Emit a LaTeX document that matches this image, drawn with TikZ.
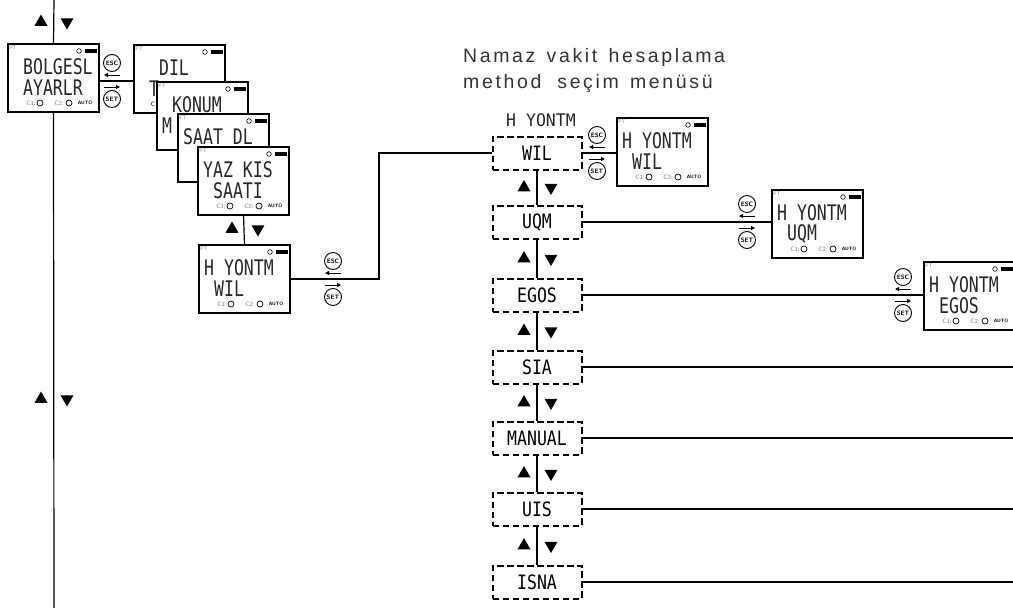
\documentclass[tikz,border=0pt]{standalone}
\usepackage{fontspec}
\usepackage{graphicx}
\usetikzlibrary{positioning,shapes.geometric,arrows.meta,calc}
\newfontfamily\titlefont[LetterSpace=13.5, WordSpace=1.4]{Liberation Sans}
\newfontfamily\lcdfont{DejaVu Sans Mono}
\newcommand{\lcdtext}[2][1.3]{\scalebox{1}[#1]{\fontsize{16.5}{16.5}\lcdfont #2}}

\tikzset{
  screen/.style={draw, fill=white, line width=1.2pt, minimum width=91pt, minimum height=68pt,
    inner sep=0pt, outer sep=0pt, anchor=north west},
  menubox/.style={draw, line width=2pt, dash pattern=on 6.5pt off 3.5pt, minimum width=89pt,
    minimum height=33pt, inner sep=0pt},
  key/.style={draw, circle, line width=0.9pt, minimum size=17pt, inner sep=0pt,
    font=\sffamily\bfseries\fontsize{6.3}{6.3}\selectfont},
  uptri/.style={regular polygon, regular polygon sides=3, fill, draw=none, minimum size=15pt, inner sep=0pt},
  downtri/.style={uptri, shape border rotate=180},
  tiny/.style={inner sep=0pt, text=gray, font=\sffamily\fontsize{6.3}{6.3}\selectfont},
  lcd/.style={anchor=west, inner sep=0pt, text=black!85},
  link/.style={line width=1.2pt},
  keyarrow/.style={line width=1pt, -{Triangle[length=4pt,width=4pt]}},
  titletext/.style={anchor=base west, inner sep=0pt, text=black!80,
    font=\titlefont\fontsize{19.5}{19.5}\selectfont}
}

% ekran: isim, x, y, satir 1, satir 2
\newcommand{\screen}[5]{%
  \node[screen] (#1) at (#2,#3) {};
  \node[tiny, font=\sffamily\fontsize{5}{5}\selectfont] at ([shift={(5,4)}]#1.north west) {PT};
  \draw[line width=0.6pt] ([shift={(71,7)}]#1.north west) circle (2.3pt);
  \fill ([shift={(77,5)}]#1.north west) rectangle ++(12,4);
  \node[lcd] at ([shift={(5,23)}]#1.north west) {\lcdtext{#4}};
  \node[lcd] at ([shift={(5,44)}]#1.north west) {\lcdtext{#5}};
}

% ekran alt satiri: C1 C2 AUTO
\newcommand{\footer}[1]{%
  \node[tiny] at ([shift={(23,59)}]#1.north west) {C1:};
  \draw[line width=0.7pt] ([shift={(32,59)}]#1.north west) circle (3pt);
  \node[tiny] at ([shift={(51,59)}]#1.north west) {C2:};
  \draw[line width=0.7pt] ([shift={(61,59)}]#1.north west) circle (3pt);
  \node[tiny, text=black, font=\sffamily\bfseries\fontsize{4.8}{4.8}\selectfont]
    at ([shift={(77,59)}]#1.north west) {AUTO};
}

% ESC / SET tuslari: isim, x, y
\newcommand{\escset}[3]{%
  \node[key] (#1esc) at (#2,#3-18) {ESC};
  \node[key] (#1set) at (#2,#3+18) {SET};
  \draw[keyarrow] ([shift={(8,12)}]#1esc.center) -- ++(-16,0);
  \draw[keyarrow] ([shift={(-8,-12)}]#1set.center) -- ++(16,0);
}

\begin{document}
\begin{tikzpicture}[x=1pt, y=-1pt]
    \useasboundingbox (0,0) rectangle (1013,608);

    % Ana hat
    \coordinate (top) at (54,0);
    \coordinate (bottom) at (54,608);
    \coordinate (edge) at (1013,0);
    \coordinate (bend) at (379,153);

    % Bolgesel ayarlar
    \screen{bolg}{8}{44}{~BOLGESL}{~AYARLR}
    \footer{bolg}
    \draw[link] (top) -- (bolg.north);
    \draw[link] (bolg.south) -- (bottom);
    \node[uptri] at (41,22) {};
    \node[downtri] at (67,22) {};
    \node[uptri] at (41,399) {};
    \node[downtri] at (67,399) {};

    % Alt menu ekranlari
    \screen{dil}{134}{45}{~~DIL}{~T}
    \node[tiny, text=black] at ([shift={(19,59)}]dil.north west) {C};
    \screen{konum}{157}{82}{~KONUM}{M}
    \screen{saat}{178}{114}{SAAT~DL}{}
    \screen{yazkis}{198}{147}{YAZ~KIS}{~SAATI}
    \footer{yazkis}
    \screen{hyon}{199}{245}{H~YONTM}{~WIL}
    \footer{hyon}
    \escset{bolg}{112}{81}
    \draw[link] ([yshift=-3pt]bolg.east) -- ([yshift=-3pt]bolg.east -| dil.west);
    \draw[link] (yazkis.south) -- (hyon.north);
    \node[uptri] at (232,229) {};
    \node[downtri] at (258,229) {};
    \escset{hyon}{333}{279}

    % Baslik
    \node[titletext] (title1) at (463,62) {Namaz vakit hesaplama};
    \node[titletext] (title2) at (463,88) {method\hspace{16pt}seçim menüsü};

    % Hesaplama metodlari
    \node[menubox] (wil) at (537,153) {\lcdtext[1.2]{WIL}};
    \node[menubox] (uqm) at (537,222) {\lcdtext[1.2]{UQM}};
    \node[menubox] (egos) at (537,295) {\lcdtext[1.2]{EGOS}};
    \node[menubox] (sia) at (537,367) {\lcdtext[1.2]{SIA}};
    \node[menubox] (manual) at (537,438) {\lcdtext[1.2]{MANUAL}};
    \node[menubox] (uis) at (537,509) {\lcdtext[1.2]{UIS}};
    \node[menubox] (isna) at (537,582) {\lcdtext[1.2]{ISNA}};
    \node[inner sep=0pt, text=black!85, above=9pt of wil, xshift=4pt] (menuhead) {\lcdtext[1.05]{H~YONTM}};
    \draw[link] (hyon.east) -| (bend) -- (wil.west);

    \foreach \a/\b in {wil/uqm, uqm/egos, egos/sia, sia/manual, manual/uis, uis/isna} {
      \draw[link] (\a.south) -- (\b.north);
      \node[uptri] at ($(\a.south)!0.5!(\b.north)+(-13,0)$) {};
      \node[downtri] at ($(\a.south)!0.5!(\b.north)+(14,0)$) {};
    }

    % Secilen metod ekranlari
    \screen{wilscr}{617}{118}{H~YONTM}{~WIL}
    \screen{uqmscr}{772}{190}{H~YONTM}{~UQM}
    \screen{egosscr}{924}{262}{H~YONTM}{~EGOS}
    \footer{wilscr}
    \footer{uqmscr}
    \footer{egosscr}
    \escset{wil}{597}{153}
    \escset{uqm}{747}{222}
    \escset{egos}{903}{295}
    \draw[link] (wil.east) -- (wil.east -| wilscr.west);
    \draw[link] (uqm.east) -- (uqm.east -| uqmscr.west);
    \draw[link] (egos.east) -- (egos.east -| egosscr.west);
    \foreach \m in {sia, manual, uis, isna}
      \draw[link] (\m.east) -- (\m.east -| edge);

  \end{tikzpicture}
\end{document}
